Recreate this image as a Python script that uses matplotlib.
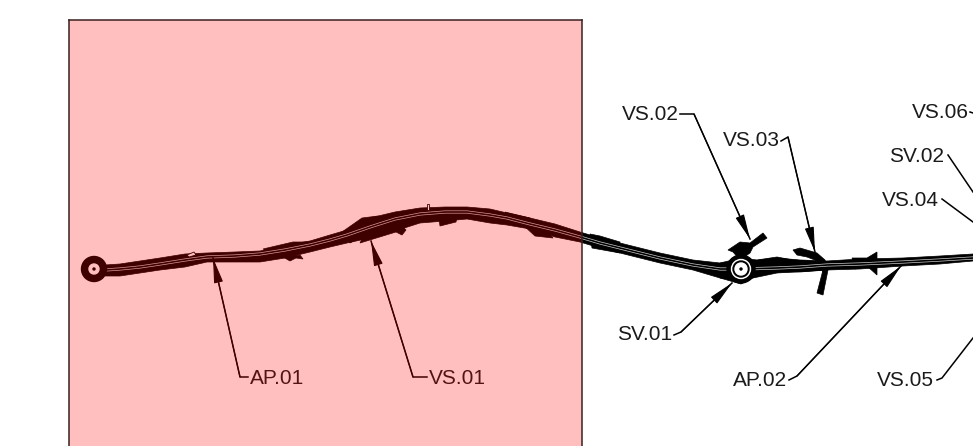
import matplotlib
matplotlib.use("Agg")
import matplotlib.pyplot as plt
from matplotlib.patches import Circle, Rectangle

plt.rcParams['font.family'] = ['Liberation Sans', 'DejaVu Sans']

# Road centreline and its edges (pixels)
road_x = [105, 120, 140, 160, 185, 207, 235, 260, 285, 310, 330, 347, 370, 395, 420,
          445, 467, 490, 507, 530, 555, 580, 600, 620, 640, 660, 693, 720, 741, 777,
          800, 827, 860, 903, 940, 973]
road_y = [270, 269, 267, 264, 260, 257, 256, 254, 250, 245, 240, 235, 227, 219, 214,
          212, 212, 215, 218, 224, 230, 237, 243, 248, 253, 258, 265, 269, 269, 268,
          267, 265, 264, 262, 260, 258]
road_top = [265, 264, 261, 258, 254, 253, 252, 251, 245, 241, 235, 230, 218, 212, 208,
            207, 207, 209, 213, 218, 224, 232, 238, 243, 248, 253, 260, 263, 262, 258,
            260, 261, 259, 258, 256, 254]
road_bot = [276, 276, 273, 270, 267, 262, 262, 262, 258, 252, 247, 243, 238, 231, 223,
            221, 219, 223, 225, 229, 237, 242, 248, 253, 258, 263, 270, 278, 280, 272,
            272, 270, 269, 266, 264, 261]

# Side works along the road
patch_vs01a = [(342, 232), (362, 218), (378, 216), (392, 220), (350, 243)]
patch_vs01b = [(365, 233), (390, 224), (402, 226), (406, 230), (402, 235), (396, 232), (360, 243)]
patch_mid = [(438, 212), (458, 212), (456, 222), (440, 226)]
patch_a = [(263, 249), (293, 242), (310, 242), (280, 256)]
patch_b = [(283, 257), (300, 255), (303, 259), (296, 258), (290, 261)]
patch_c = [(522, 224), (545, 230), (553, 238), (535, 236)]
patch_d = [(505, 212), (530, 218), (535, 226), (512, 222)]
patch_e = [(590, 234), (600, 236), (620, 242), (620, 253), (592, 248)]
patch_f = [(728, 250), (740, 242), (750, 243), (763, 233), (767, 238), (753, 247), (750, 253), (740, 260), (733, 252)]
patch_g = [(793, 250), (800, 248), (817, 253), (825, 260), (828, 270), (823, 273), (820, 262), (807, 257), (797, 255)]
patch_h = [(823, 270), (828, 270), (823, 295), (817, 293)]
patch_i = [(852, 258), (867, 258), (877, 252), (877, 275), (867, 266), (855, 269)]
patch_j = [(720, 263), (741, 258), (757, 260), (777, 257), (793, 260), (827, 262), (827, 270), (777, 273), (753, 278), (741, 284), (720, 278)]
patch_list = [patch_vs01a, patch_vs01b, patch_mid, patch_a, patch_b, patch_c, patch_d,
              patch_e, patch_f, patch_g, patch_h, patch_i, patch_j]

# Little open outlines next to the road
outline_box = [(187, 255), (194, 252), (196, 255), (189, 257), (187, 255)]
outline_tick = [(427, 204), (427, 210), (429, 210), (429, 204), (427, 204)]
outline_list = [outline_box, outline_tick]

# Labels with the position of the text
label_text = ["AP.01", "VS.01", "VS.02", "VS.03", "SV.01", "AP.02", "VS.05", "VS.04", "SV.02", "VS.06"]
label_x = [250, 429, 622, 723, 617, 733, 877, 882, 889, 912]
label_y = [378, 378, 115, 140, 334, 381, 381, 201, 156, 112]

# Leaders, the ones with arrowheads first
leaders = [[(248, 377), (240, 377), (213, 258)],
           [(427, 377), (413, 377), (371, 241)],
           [(680, 114), (694, 114), (750, 239)],
           [(781, 141), (788, 137), (815, 252)],
           [(674, 335), (681, 332), (732, 283)],
           [(789, 380), (797, 376), (901, 266)]]
plain_leaders = [[(937, 380), (942, 378), (973, 338)],
                 [(942, 199), (973, 222)],
                 [(948, 155), (973, 192)],
                 [(970, 112), (973, 113)]]

fig = plt.figure(figsize=(9.73, 4.46), dpi=100)
ax = fig.add_axes([0, 0, 1, 1])
ax.set_xlim(0, 973)
ax.set_ylim(446, 0)
ax.axis("off")

# Road body
ax.fill(road_x + road_x[::-1], road_top + road_bot[::-1], color="black", lw=0.5, zorder=2)
for p in patch_list:
    ax.fill([q[0] for q in p], [q[1] for q in p], color="black", lw=0.5, zorder=2)
for p in outline_list:
    ax.fill([q[0] for q in p], [q[1] for q in p], facecolor="white", edgecolor="black", lw=0.6, zorder=2)

# Two thin lines running along the carriageway
ax.plot(road_x, [y - 1.2 for y in road_y], color="white", lw=0.5, alpha=0.8, zorder=3)
ax.plot(road_x, [y + 1.2 for y in road_y], color="white", lw=0.5, alpha=0.8, zorder=3)

# Roundabouts
ax.add_patch(Circle((94, 269), 12.5, color="black", zorder=4))
ax.add_patch(Circle((94, 269), 5, color="white", zorder=5))
ax.add_patch(Circle((94, 269), 1, color="black", zorder=6))
ax.add_patch(Circle((741, 269), 14, color="black", zorder=4))
ax.add_patch(Circle((741, 269), 9.5, color="white", zorder=5))
ax.add_patch(Circle((741, 269), 8, color="black", zorder=6))
ax.add_patch(Circle((741, 269), 6, color="white", zorder=7))
ax.add_patch(Circle((741, 269), 1, color="black", zorder=8))

# Leaders and labels
for line in leaders:
    ax.plot([q[0] for q in line], [q[1] for q in line], color="black", lw=1.1, zorder=9)
    ax.annotate("", xy=line[-1], xytext=line[-2], zorder=9,
                arrowprops=dict(arrowstyle="-|>,head_length=1.1,head_width=0.2", color="black",
                                lw=0.8, shrinkA=0, shrinkB=0, mutation_scale=14))
for line in plain_leaders:
    ax.plot([q[0] for q in line], [q[1] for q in line], color="black", lw=1.1, zorder=9)
for t, x, y in zip(label_text, label_x, label_y):
    ax.text(x, y, t, fontsize=15, color="#1a1a1a", ha="left", va="center", zorder=9)

# Red highlight laid over the drawing
ax.add_patch(Rectangle((69, 20), 513, 440, facecolor="red", alpha=0.25, edgecolor="none", zorder=20))
ax.plot([69, 69], [446, 20], color="#3a2020", lw=1.1, zorder=21)
ax.plot([69, 582], [20, 20], color="#3a2020", lw=1.1, zorder=21)
ax.plot([582, 582], [20, 446], color="#3a2020", lw=1.1, zorder=21)

fig.savefig("out.png", dpi=100)
